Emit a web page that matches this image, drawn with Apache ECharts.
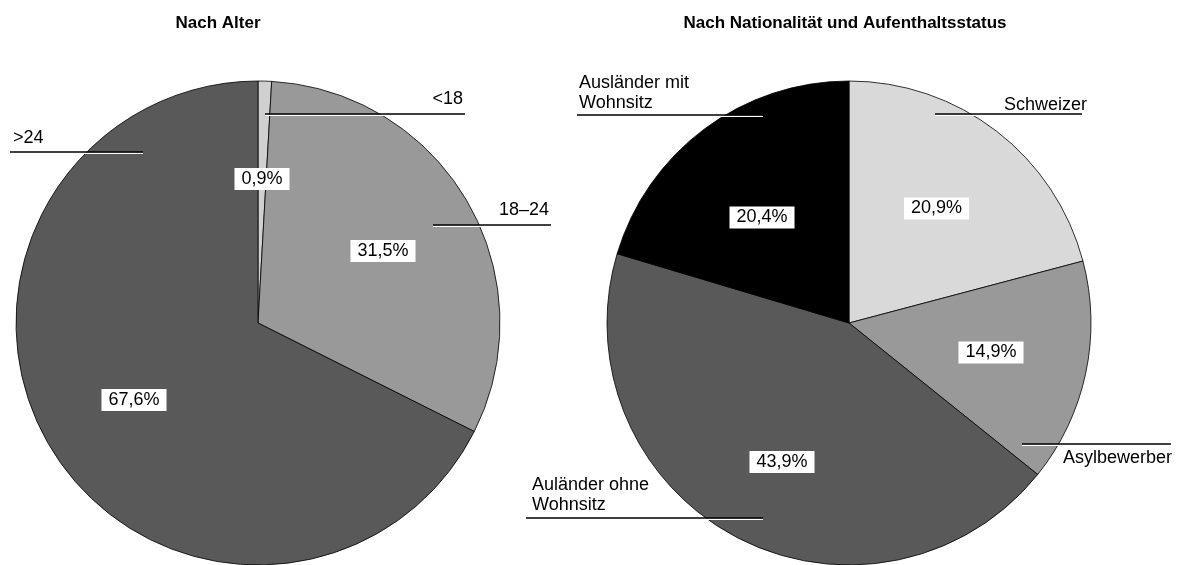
<!DOCTYPE html>
<html><head><meta charset="utf-8">
<script src="https://cdn.jsdelivr.net/npm/echarts@6/dist/echarts.min.js"></script>
<style>html,body{margin:0;padding:0;background:#fff}#c{width:1181px;height:565px}</style>
</head><body><div id="c"></div>
<script>
// ---- data ----
const titles = ['Nach Alter', 'Nach Nationalität und Aufenthaltsstatus'];
const ageCategories = ['<18', '18–24', '>24'];
const ageValues = [0.9, 31.5, 67.6];
const statusCategories = ['Schweizer', 'Asylbewerber', 'Auländer ohne\nWohnsitz', 'Ausländer mit\nWohnsitz'];
const statusValues = [20.9, 14.9, 43.9, 20.4];

// ---- layout / style ----
const R = 242;
const C1 = [258, 323], C2 = [849, 323];
const ageColors = ['#d0d0d0', '#999999', '#595959'];
const statusColors = ['#d9d9d9', '#999999', '#595959', '#000000'];
// inside label centres, relative to pie centre
const inside1 = [[4, -144], [125, -72], [-124, 77]];
const inside2 = [[87.5, -114.5], [142, 29.5], [-67, 139], [-87, -105.5]];
// outside labels: [lineInnerX, lineOuterX, lineY, textX, textY, align] relative to pie centre
const outside1 = [[7, 207, -209, 205, -224, 'right'], [175, 293, -98, 291, -113, 'right'], [-115, -248, -171, -245, -185, 'left']];
const outside2 = [[86, 233, -209, 238, -218, 'right'], [173, 322, 121, 323, 135, 'right'], [-86, -323, 195, -317, 172, 'left'], [-86, -272, -208, -270, -230, 'left']];

const FONT = '"Liberation Sans", Arial, Helvetica, sans-serif';
const fmtPct = v => v.toFixed(1).replace('.', ',') + '%';

function toData(names, values, colors) {
  return names.map((n, i) => ({ name: n, value: values[i], itemStyle: colors ? { color: colors[i] } : undefined }));
}
function insideLayout(C, pos) {
  return p => ({ x: C[0] + pos[p.dataIndex][0], y: C[1] + pos[p.dataIndex][1], align: 'center', verticalAlign: 'middle' });
}
function outsideLayout(C, cfg) {
  return p => {
    const o = cfg[p.dataIndex];
    const y = C[1] + o[2];
    return {
      x: C[0] + o[3], y: C[1] + o[4], align: o[5], verticalAlign: 'middle',
      labelLinePoints: [[C[0] + o[0], y], [C[0] + (o[0] + o[1]) / 2, y], [C[0] + o[1], y]]
    };
  };
}
function mainSeries(C, names, values, colors, pos) {
  return {
    type: 'pie', center: C, radius: R, startAngle: 90, clockwise: true,
    avoidLabelOverlap: false, silent: true, animation: false,
    data: toData(names, values, colors),
    itemStyle: { borderColor: '#000', borderWidth: 0.8 },
    label: {
      show: true, position: 'inside', formatter: p => fmtPct(p.value),
      fontFamily: FONT, fontSize: 18, color: '#000', lineHeight: 18,
      backgroundColor: '#fff', padding: [2, 7, 2, 7]
    },
    labelLine: { show: false },
    labelLayout: insideLayout(C, pos),
    emphasis: { disabled: true }
  };
}
function labelSeries(C, names, values, cfg) {
  return {
    type: 'pie', center: C, radius: R, startAngle: 90, clockwise: true,
    avoidLabelOverlap: false, silent: true, animation: false, z: 5,
    data: toData(names, values, null),
    itemStyle: { color: 'rgba(0,0,0,0)', borderWidth: 0 },
    label: {
      show: true, position: 'outside', formatter: p => p.name,
      fontFamily: FONT, fontSize: 18, color: '#000', lineHeight: 20
    },
    labelLine: {
      show: true, length: 10, length2: 10, smooth: false,
      lineStyle: { color: '#000', width: 1.6, shadowColor: '#ffffff', shadowBlur: 0, shadowOffsetY: 1.3 }
    },
    labelLayout: outsideLayout(C, cfg),
    emphasis: { disabled: true }
  };
}

const chart = echarts.init(document.getElementById('c'), null, { renderer: 'canvas' });
chart.setOption({
  backgroundColor: '#fff',
  animation: false,
  title: [
    { text: titles[0], left: 213, top: 10, textAlign: 'center', textStyle: { fontFamily: FONT, fontSize: 17, fontWeight: 'bold', color: '#000' } },
    { text: titles[1], left: 840, top: 10, textAlign: 'center', textStyle: { fontFamily: FONT, fontSize: 17, fontWeight: 'bold', color: '#000' } }
  ],
  series: [
    mainSeries(C1, ageCategories, ageValues, ageColors, inside1),
    labelSeries(C1, ageCategories, ageValues, outside1),
    mainSeries(C2, statusCategories, statusValues, statusColors, inside2),
    labelSeries(C2, statusCategories, statusValues, outside2)
  ]
});
</script></body></html>
